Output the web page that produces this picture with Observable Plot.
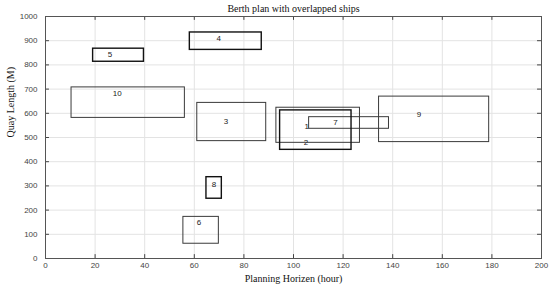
<!DOCTYPE html>
<html>
<head>
<meta charset="utf-8">
<script src="https://cdn.jsdelivr.net/npm/d3@7"></script>
<script src="https://cdn.jsdelivr.net/npm/@observablehq/plot@0.6"></script>
<style>
  html, body { margin: 0; padding: 0; background: #fff; }
</style>
</head>
<body>
<div id="chart"></div>
<script>
// ---- data ----
const shipIds   = [1, 2, 3, 4, 5, 6, 7, 8, 9, 10];
const startHour = [93.1, 94.6, 61.2, 58.2, 19.2, 55.6, 106.3, 64.9, 134.5, 10.5];
const endHour   = [126.8, 123.4, 89.0, 87.2, 39.7, 69.9, 138.5, 71.1, 178.9, 56.2];
const quayLow   = [478, 449, 485, 862, 813, 61, 536, 247, 481, 581];
const quayHigh  = [623, 612, 643, 934, 867, 172, 584, 336, 669, 707];
const labelHour = [105.3, 105, 72.8, 69.8, 26, 61.9, 116.9, 67.9, 150.6, 28.9];
const labelQuay = [545, 478, 566, 910, 843, 148, 561, 307, 594, 683];
const xTicks = [0, 20, 40, 60, 80, 100, 120, 140, 160, 180, 200];
const yTicks = [0, 100, 200, 300, 400, 500, 600, 700, 800, 900, 1000];

const titleText = "Berth plan with overlapped ships";
const xLabel = "Planning Horizen (hour)";
const yLabel = "Quay Length (M)";

const ships = shipIds.map((id, i) => ({
  id, start: startHour[i], end: endHour[i], low: quayLow[i], high: quayHigh[i],
  lx: labelHour[i], ly: labelQuay[i]
}));
const boldIds = new Set([2, 4, 5, 8]);

const serif = "'Liberation Serif', 'DejaVu Serif', serif";
const sans = "'Liberation Sans', Arial, sans-serif";

const chart = Plot.plot({
  width: 550,
  height: 290,
  marginLeft: 45,
  marginRight: 9,
  marginTop: 16,
  marginBottom: 32,
  style: { fontFamily: sans, fontSize: "8px", color: "#333", background: "#fff" },
  x: { domain: [0, 200], label: null },
  y: { domain: [0, 1000], label: null },
  marks: [
    Plot.gridX(xTicks, { stroke: "#e3e3e3", strokeOpacity: 1 }),
    Plot.gridY(yTicks, { stroke: "#e3e3e3", strokeOpacity: 1 }),
    // inside ticks on all four sides
    Plot.ruleX(xTicks, { y1: 0, y2: 16, stroke: "#444" }),
    Plot.ruleX(xTicks, { y1: 984, y2: 1000, stroke: "#444" }),
    Plot.ruleY(yTicks, { x1: 0, x2: 1.6, stroke: "#444" }),
    Plot.ruleY(yTicks, { x1: 198.4, x2: 200, stroke: "#444" }),
    Plot.axisX(xTicks, { tickSize: 0, tickPadding: 4, fill: "#444", fontSize: 8, tickFormat: d3.format("d") }),
    Plot.axisY(yTicks, { tickSize: 0, tickPadding: 8, fill: "#444", fontSize: 8, tickFormat: d3.format("d") }),
    Plot.rect(ships.filter(d => !boldIds.has(d.id)), {
      x1: "start", x2: "end", y1: "low", y2: "high",
      fill: "none", stroke: "#3a3a3a", strokeWidth: 1
    }),
    Plot.rect(ships.filter(d => boldIds.has(d.id)), {
      x1: "start", x2: "end", y1: "low", y2: "high",
      fill: "none", stroke: "#111", strokeWidth: 1.4
    }),
    Plot.text(ships, { x: "lx", y: "ly", text: d => String(d.id), fill: "#222", fontSize: 8 }),
    Plot.frame({ stroke: "#555" }),
    Plot.text([titleText], { frameAnchor: "top", dy: -12, text: d => d, fontFamily: serif, fontSize: 10, fill: "#111" }),
    Plot.text([xLabel], { frameAnchor: "bottom", dy: 23, text: d => d, fontFamily: serif, fontSize: 10, fill: "#111" }),
    Plot.text([yLabel], { frameAnchor: "left", dx: -35, rotate: -90, text: d => d, fontFamily: serif, fontSize: 10, fill: "#111" })
  ]
});
document.getElementById("chart").appendChild(chart);
</script>
</body>
</html>
